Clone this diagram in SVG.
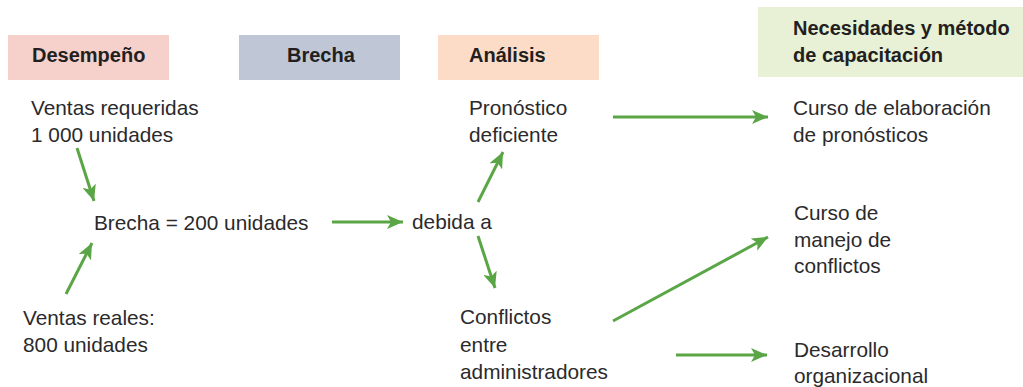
<svg xmlns="http://www.w3.org/2000/svg" width="1023" height="387" viewBox="0 0 1023 387">
  <style>
    .t { font-family: "Liberation Sans", Arial, sans-serif; font-size: 20.8px; fill: #2b2a2c; }
    .h { font-family: "Liberation Sans", Arial, sans-serif; font-size: 20px; font-weight: bold; fill: #231f20; }
    .c { stroke: #5aa545; stroke-width: 3; fill: none; marker-end: url(#ah); }
  </style>
  <defs>
    <marker id="ah" markerUnits="userSpaceOnUse" markerWidth="18" markerHeight="14" refX="16" refY="7" orient="auto">
      <path d="M0,0 L16,7 L0,14 L4,7 Z" fill="#5aa545"/>
    </marker>
  </defs>
  <rect width="1023" height="387" fill="#ffffff"/>

  <g id="header-desempeno">
    <rect x="8" y="35" width="161" height="45" fill="#f6d0cb"/>
    <text class="h" x="32" y="62">Desempeño</text>
  </g>
  <g id="header-brecha">
    <rect x="239" y="35" width="161" height="45" fill="#bfc6d6"/>
    <text class="h" x="287" y="62">Brecha</text>
  </g>
  <g id="header-analisis">
    <rect x="438" y="35" width="161" height="45" fill="#fcdcc6"/>
    <text class="h" x="469" y="62">Análisis</text>
  </g>
  <g id="header-necesidades">
    <rect x="758" y="7" width="265" height="70" fill="#e8f0d5"/>
    <text class="h" x="793" y="35">Necesidades y método</text>
    <text class="h" x="793" y="62">de capacitación</text>
  </g>

  <g id="ventas-requeridas">
    <text class="t" x="31" y="115">Ventas requeridas</text>
    <text class="t" x="31" y="142">1 000 unidades</text>
  </g>
  <g id="ventas-reales">
    <text class="t" x="23" y="325">Ventas reales:</text>
    <text class="t" x="23" y="352">800 unidades</text>
  </g>
  <g id="brecha-valor">
    <text class="t" x="94" y="230">Brecha = 200 unidades</text>
  </g>
  <g id="debida-a">
    <text class="t" x="412" y="229">debida a</text>
  </g>
  <g id="pronostico">
    <text class="t" x="469" y="115">Pronóstico</text>
    <text class="t" x="469" y="142">deficiente</text>
  </g>
  <g id="conflictos">
    <text class="t" x="460" y="324">Conflictos</text>
    <text class="t" x="460" y="352">entre</text>
    <text class="t" x="460" y="379">administradores</text>
  </g>
  <g id="curso-pronosticos">
    <text class="t" x="793" y="115">Curso de elaboración</text>
    <text class="t" x="793" y="142">de pronósticos</text>
  </g>
  <g id="curso-conflictos">
    <text class="t" x="794" y="220">Curso de</text>
    <text class="t" x="794" y="247">manejo de</text>
    <text class="t" x="794" y="273">conflictos</text>
  </g>
  <g id="desarrollo">
    <text class="t" x="794" y="357">Desarrollo</text>
    <text class="t" x="794" y="383">organizacional</text>
  </g>

  <g id="connectors">
    <line class="c" x1="77" y1="148" x2="94" y2="201"/>
    <line class="c" x1="66" y1="294" x2="92" y2="243"/>
    <line class="c" x1="332" y1="222" x2="403" y2="222"/>
    <line class="c" x1="478" y1="202" x2="503" y2="152"/>
    <line class="c" x1="478" y1="236" x2="495" y2="288"/>
    <line class="c" x1="613" y1="117" x2="768" y2="117"/>
    <line class="c" x1="613" y1="321" x2="768" y2="237"/>
    <line class="c" x1="676" y1="355" x2="767" y2="355"/>
  </g>
</svg>
